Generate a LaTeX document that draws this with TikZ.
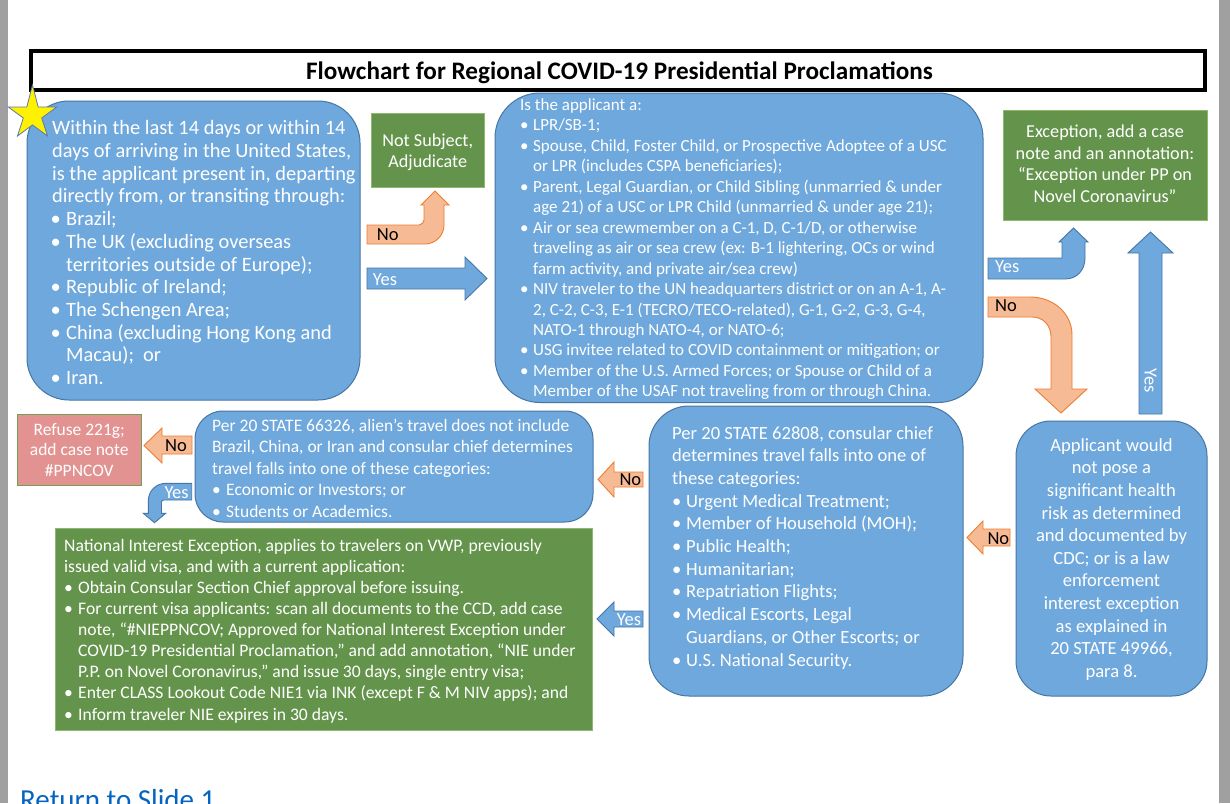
\documentclass[tikz,border=0pt]{standalone}
\usepackage{fontspec}
\setmainfont{Carlito}
\definecolor{boxblue}{RGB}{111,168,220}
\definecolor{boxblueline}{RGB}{70,118,166}
\definecolor{boxgreen}{RGB}{100,148,75}
\definecolor{greenline}{RGB}{140,185,110}
\definecolor{arrorange}{RGB}{246,187,148}
\definecolor{arrorangeline}{RGB}{237,125,49}
\definecolor{boxpink}{RGB}{227,146,146}
\definecolor{pinkline}{RGB}{112,160,80}
\definecolor{sidegray}{RGB}{160,160,160}
\definecolor{linkblue}{RGB}{5,99,193}
\definecolor{starline}{RGB}{90,120,170}
\newlength\bulind
\newlength\bulsh
\newcommand\bul{\makebox[\bulind][l]{\hspace{\bulsh}•}}
\newcommand\cnt{\hspace*{\bulind}}
\begin{document}
\begin{tikzpicture}[x=1pt,y=-1pt,
  bluebox/.style={draw=boxblueline, fill=boxblue, line width=1pt, inner sep=0, rectangle},
  greenbox/.style={draw=greenline, fill=boxgreen, line width=1pt, inner sep=0, rectangle},
  txt/.style={inner sep=0, text=white, anchor=base west},
  ctxt/.style={inner sep=0, text=white, anchor=base},
  orarrow/.style={draw=arrorangeline, fill=arrorange, line width=0.9pt},
  blarrow/.style={draw=boxblueline, fill=boxblue, line width=0.9pt},
  lbl/.style={inner sep=0, anchor=base west, font=\fontsize{18.5}{20}\selectfont},
]
\useasboundingbox (0,0) rectangle (1230,803);
\fill[white] (0,0) rectangle (1230,803);
\fill[sidegray] (0,0) rectangle (8,803);
\fill[sidegray] (1219,0) rectangle (1230,803);

% title
\node[draw=black, line width=4pt, fill=white, minimum width=1174pt, minimum height=39.5pt, inner sep=0] (title) at (618,70.25) {};
\node[inner sep=0, anchor=base, font=\bfseries\fontsize{25.2}{29}\selectfont] (titletext) at (619.5,79.5) {Flowchart for Regional COVID-19 Presidential Proclamations};

% boxes
\node[bluebox, rounded corners=42pt, minimum width=333pt, minimum height=299pt] (b1) at (193.5,250.5) {};
\node[bluebox, rounded corners=45pt, minimum width=488pt, minimum height=309.5pt] (b2) at (739,247.75) {};
\node[bluebox, rounded corners=35pt, minimum width=191pt, minimum height=275pt] (b3) at (1111.5,558.5) {};
\node[bluebox, rounded corners=40pt, minimum width=314pt, minimum height=290pt] (b4) at (806,551) {};
\node[bluebox, rounded corners=28pt, minimum width=398pt, minimum height=111pt] (b5) at (394,466.5) {};
\node[draw=pinkline, fill=boxpink, line width=1pt, inner sep=0, minimum width=123.5pt, minimum height=71pt] (pink) at (79.25,450) {};
\node[greenbox, minimum width=537pt, minimum height=202.5pt] (gbig) at (323.5,629.25) {};
\node[greenbox, minimum width=204pt, minimum height=110.5pt] (gtr) at (1105,165.25) {};
\node[greenbox, minimum width=113.5pt, minimum height=74pt] (gns) at (427.75,150.5) {};

% star
\draw[starline, fill=yellow, line width=0.8pt] (32.5,85) -- (38.2,107) -- (56.7,107) -- (41.7,118) -- (47.5,136) -- (32.5,124.9) -- (17.5,136) -- (23.3,118) -- (8.3,107) -- (26.8,107) -- cycle;

% texts
\node[txt, font=\fontsize{20.4}{22.7}\selectfont] (t1) at (52,134.8) {\setlength\bulind{14pt}\setlength\bulsh{-1.5pt}\parbox[t]{500pt}{\raggedright
Within the last 14 days or within 14\\
days of arriving in the United States,\\
is the applicant present in, departing\\
directly from, or transiting through:\\
\bul Brazil;\\
\bul The UK (excluding overseas\\
\cnt territories outside of Europe);\\
\bul Republic of Ireland;\\
\bul The Schengen Area;\\
\bul China (excluding Hong Kong and\\
\cnt Macau);\ \ or\\
\bul Iran.}};

\node[txt, font=\fontsize{17}{20.45}\selectfont] (t2) at (520,110.5) {\setlength\bulind{13pt}\setlength\bulsh{0pt}\parbox[t]{600pt}{\raggedright
Is the applicant a:\\
\bul LPR/SB-1;\\
\bul Spouse, Child, Foster Child, or Prospective Adoptee of a USC\\
\cnt or LPR (includes CSPA beneficiaries);\\
\bul Parent, Legal Guardian, or Child Sibling (unmarried \& under\\
\cnt age 21) of a USC or LPR Child (unmarried \& under age 21);\\
\bul Air or sea crewmember on a C-1, D, C-1/D, or otherwise\\
\cnt traveling as air or sea crew (ex: B-1 lightering, OCs or wind\\
\cnt farm activity, and private air/sea crew)\\
\bul NIV traveler to the UN headquarters district or on an A-1, A-\\
\cnt 2, C-2, C-3, E-1 (TECRO/TECO-related), G-1, G-2, G-3, G-4,\\
\cnt NATO-1 through NATO-4, or NATO-6;\\
\bul USG invitee related to COVID containment or mitigation; or\\
\bul Member of the U.S. Armed Forces; or Spouse or Child of a\\
\cnt Member of the USAF not traveling from or through China.}};

\node[ctxt, font=\fontsize{18.6}{22.6}\selectfont] (t3) at (1111.5,451.2) {\parbox[t]{190pt}{\centering
Applicant would\\ not pose a\\ significant health\\ risk as determined\\ and documented by\\ CDC; or is a law\\ enforcement\\ interest exception\\ as explained in\\ 20 STATE 49966,\\ para 8.}};

\node[txt, font=\fontsize{18.6}{22.7}\selectfont] (t4) at (672,439) {\setlength\bulind{14pt}\setlength\bulsh{0pt}\parbox[t]{500pt}{\raggedright
Per 20 STATE 62808, consular chief\\
determines travel falls into one of\\
these categories:\\
\bul Urgent Medical Treatment;\\
\bul Member of Household (MOH);\\
\bul Public Health;\\
\bul Humanitarian;\\
\bul Repatriation Flights;\\
\bul Medical Escorts, Legal\\
\cnt Guardians, or Other Escorts; or\\
\bul U.S. National Security.}};

\node[txt, font=\fontsize{17.5}{21.5}\selectfont] (t5) at (212,431) {\setlength\bulind{14pt}\setlength\bulsh{0pt}\parbox[t]{500pt}{\raggedright
Per 20 STATE 66326, alien’s travel does not include\\
Brazil, China, or Iran and consular chief determines\\
travel falls into one of these categories:\\
\bul Economic or Investors; or\\
\bul Students or Academics.}};

\node[txt, font=\fontsize{17.6}{21.1}\selectfont] (tg) at (64,551.2) {\setlength\bulind{14pt}\setlength\bulsh{0pt}\parbox[t]{600pt}{\raggedright
National Interest Exception, applies to travelers on VWP, previously\\
issued valid visa, and with a current application:\\
\bul Obtain Consular Section Chief approval before issuing.\\
\bul For current visa applicants: scan all documents to the CCD, add case\\
\cnt note, “\#NIEPPNCOV; Approved for National Interest Exception under\\
\cnt COVID-19 Presidential Proclamation,” and add annotation, “NIE under\\
\cnt P.P. on Novel Coronavirus,” and issue 30 days, single entry visa;\\
\bul Enter CLASS Lookout Code NIE1 via INK (except F \& M NIV apps); and\\
\bul Inform traveler NIE expires in 30 days.}};

\node[ctxt, font=\fontsize{18.2}{21.5}\selectfont] (ttr) at (1105,137.5) {\parbox[t]{204pt}{\centering
Exception, add a case\\ note and an annotation:\\ “Exception under PP on\\ Novel Coronavirus”}};

\node[ctxt, font=\fontsize{18.2}{21.3}\selectfont] (tns) at (427.75,146) {\parbox[t]{113pt}{\centering
Not Subject,\\ Adjudicate}};

\node[ctxt, font=\fontsize{17.5}{20.5}\selectfont] (tpink) at (79.25,435) {\parbox[t]{123pt}{\centering
Refuse 221g;\\ add case note\\ \#PPNCOV}};

% arrows
\draw[orarrow] (367,225) -- (419,225) .. controls (421.8,225) and (424,222.2) .. (424,220) -- (424,205) -- (421,205) -- (435,191) -- (449,205) -- (444,205) -- (444,225) .. controls (444,235.5) and (435.5,244) .. (425,244) -- (367,244) -- cycle;
\draw[blarrow] (367,268) -- (465,268) -- (465,257) -- (487,278.5) -- (465,300) -- (465,289) -- (367,289) -- cycle;
\draw[blarrow] (988,258) -- (1062,258) -- (1062,242) -- (1059,242) -- (1073.5,228) -- (1088,242) -- (1085,242) -- (1085,258) .. controls (1085,270) and (1077,279) .. (1065,279) -- (988,279) -- cycle;
\draw[orarrow] (988,297) -- (1030,297) .. controls (1053,297) and (1072,313) .. (1072,335) -- (1072,389) -- (1087,389) -- (1061,413) -- (1035,389) -- (1051,389) -- (1051,337) .. controls (1051,325) and (1043,317) .. (1032,317) -- (988,317) -- cycle;
\draw[blarrow] (1139,414) -- (1139,253) -- (1128,253) -- (1150.5,232) -- (1173,253) -- (1162,253) -- (1162,414) -- cycle;
\draw[orarrow] (1010,529) -- (983,529) -- (983,521) -- (967,537.5) -- (983,554) -- (983,546) -- (1010,546) -- cycle;
\draw[orarrow] (643,472) -- (614,472) -- (614,462) -- (598,479.5) -- (614,497) -- (614,487) -- (643,487) -- cycle;
\draw[blarrow] (643,611) -- (614,611) -- (614,602) -- (597,619) -- (614,636) -- (614,627) -- (643,627) -- cycle;
\draw[orarrow] (192,436) -- (162,436) -- (162,428) -- (144,445.5) -- (162,463) -- (162,454) -- (192,454) -- cycle;
\draw[blarrow] (191.7,483.3) -- (166,483.3) .. controls (156,483.3) and (148.3,491) .. (148.3,501) -- (148.3,513.3) -- (143.3,513.3) -- (154.5,522.7) -- (165.7,513.3) -- (161.5,513.3) -- (161.5,502) .. controls (161.5,500.8) and (162.5,500) .. (164,500) -- (191.7,500) -- cycle;

% labels
\node[lbl] (lno1) at (376.7,240.7) {No};
\node[lbl, text=white] (lyes1) at (372.7,285) {Yes};
\node[lbl, text=white] (lyes2) at (995,272.7) {Yes};
\node[lbl] (lno2) at (995,311.7) {No};
\node[inner sep=0, text=white, rotate=-90, font=\fontsize{18.5}{20}\selectfont] (lyes3) at (1150.5,381) {Yes};
\node[lbl] (lno3) at (987.3,544.3) {No};
\node[lbl] (lno4) at (619.3,485.7) {No};
\node[lbl, text=white] (lyes4) at (616.7,625) {Yes};
\node[lbl] (lno5) at (165,451.7) {No};
\node[lbl, text=white] (lyes5) at (164.3,498.3) {Yes};

\node[inner sep=0, anchor=base west, text=linkblue, font=\fontsize{29}{34}\selectfont] (ret) at (20,809) {Return to Slide 1};
\end{tikzpicture}
\end{document}
